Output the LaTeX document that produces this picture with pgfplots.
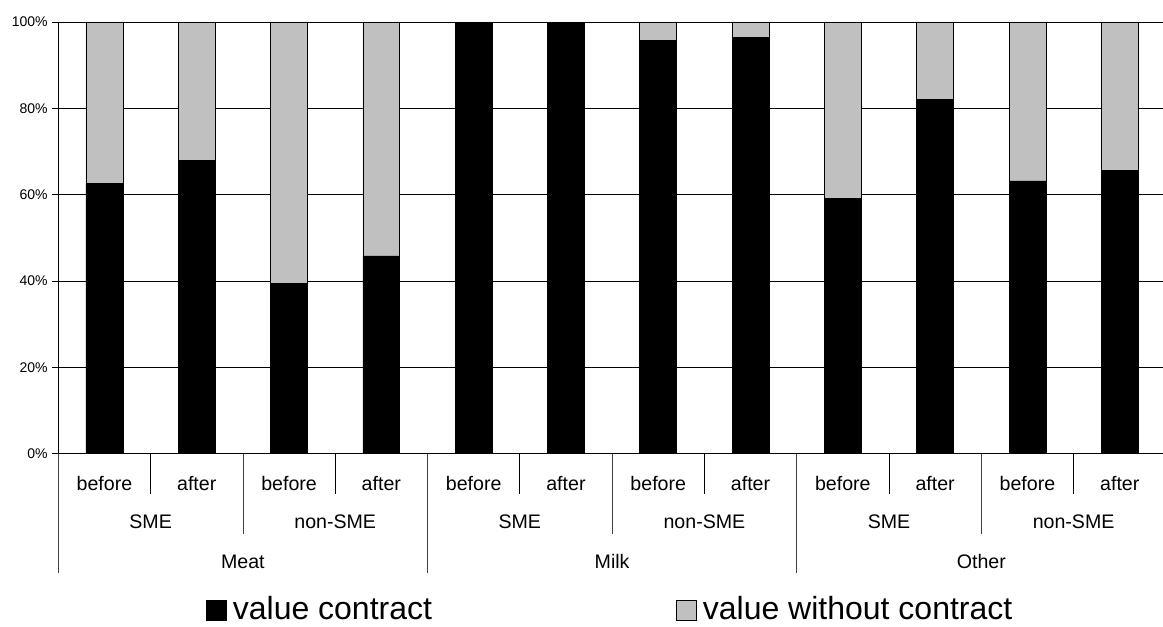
\documentclass[border=0pt]{standalone}
\usepackage{pgfplots}
\pgfplotsset{compat=1.18}
\usepackage{fontspec}
\setmainfont{Liberation Sans}
\definecolor{barGray}{RGB}{192,192,192}
\begin{document}
\begin{tikzpicture}
\useasboundingbox (0pt,0pt) rectangle (872.25pt,469.5pt);
\begin{axis}[
  at={(43.725pt,129.225pt)}, anchor=south west,
  width=830.7pt, height=323.8pt, scale only axis,
  ybar stacked, bar width=0.4,
  xmin=-0.5, xmax=11.5, ymin=0, ymax=100,
  clip=false,
  axis x line*=bottom, axis y line*=left,
  axis line style={-, black, line width=0.6pt},
  xtick={0,...,11},
  xticklabels={before,after,before,after,before,after,before,after,before,after,before,after},
  x tick style={draw=none},
  xticklabel style={anchor=base, yshift=-23pt, font=\fontsize{14.7}{17}\selectfont},
  ytick={0,20,40,60,80,100},
  yticklabel={\pgfmathprintnumber{\tick}\%},
  /pgf/number format/assume math mode=true,
  yticklabel style={font=\fontsize{10.5}{12}\selectfont},
  y tick style={black, line width=0.6pt},
  tick align=outside, major tick length=4.5pt,
  ymajorgrids, grid style={black, line width=0.6pt},
  legend columns=2,
  legend style={draw=none, fill=none, inner sep=0pt, outer sep=0pt,
    at={(0.1334,-0.3892)}, anchor=south west,
    font=\fontsize{24}{27}\selectfont,
    nodes={inner sep=0pt},
    /tikz/every odd column/.append style={column sep=4.5pt},
    /tikz/every even column/.append style={column sep=183pt}},
  legend image code/.code={\draw[#1, line width=0.6pt] (0pt,-8.6pt) rectangle (15pt,6.4pt);},
]
\addplot+[fill=black, draw=black, line width=0.5pt] coordinates {
 (0,62.6) (1,67.9) (2,39.5) (3,45.8) (4,99.6) (5,99.6)
 (6,95.7) (7,96.4) (8,59.2) (9,82.1) (10,63.2) (11,65.6)};
\addlegendentry{value contract}
\addplot+[fill=barGray, draw=black, line width=0.5pt] coordinates {
 (0,37.4) (1,32.1) (2,60.5) (3,54.2) (4,0.4) (5,0.4)
 (6,4.3) (7,3.6) (8,40.8) (9,17.9) (10,36.8) (11,34.4)};
\addlegendentry{value without contract}
% separators of the category axis
\pgfplotsinvokeforeach{0.5,2.5,4.5,6.5,8.5,10.5}{
  \draw[black, line width=0.6pt] (axis cs:#1,0) -- ++(0pt,-30.5pt);}
\pgfplotsinvokeforeach{1.5,5.5,9.5}{
  \draw[black!75, line width=0.6pt] (axis cs:#1,0) -- ++(0pt,-60.5pt);}
\pgfplotsinvokeforeach{-0.5,3.5,7.5,11.5}{
  \draw[black!75, line width=0.6pt] (axis cs:#1,0) -- ++(0pt,-89.7pt);}
% group labels
\pgfplotsinvokeforeach{0.5,4.5,8.5}{
  \node[anchor=base, inner sep=0pt, font=\fontsize{14.7}{17}\selectfont]
    at ([yshift=-56pt]axis cs:#1,0) {SME};}
\pgfplotsinvokeforeach{2.5,6.5,10.5}{
  \node[anchor=base, inner sep=0pt, font=\fontsize{14.7}{17}\selectfont]
    at ([yshift=-56pt]axis cs:#1,0) {non-SME};}
\node[anchor=base, inner sep=0pt, font=\fontsize{14.7}{17}\selectfont]
  at ([yshift=-86pt]axis cs:1.5,0) {Meat};
\node[anchor=base, inner sep=0pt, font=\fontsize{14.7}{17}\selectfont]
  at ([yshift=-86pt]axis cs:5.5,0) {Milk};
\node[anchor=base, inner sep=0pt, font=\fontsize{14.7}{17}\selectfont]
  at ([yshift=-86pt]axis cs:9.5,0) {Other};
\end{axis}
\end{tikzpicture}
\end{document}
